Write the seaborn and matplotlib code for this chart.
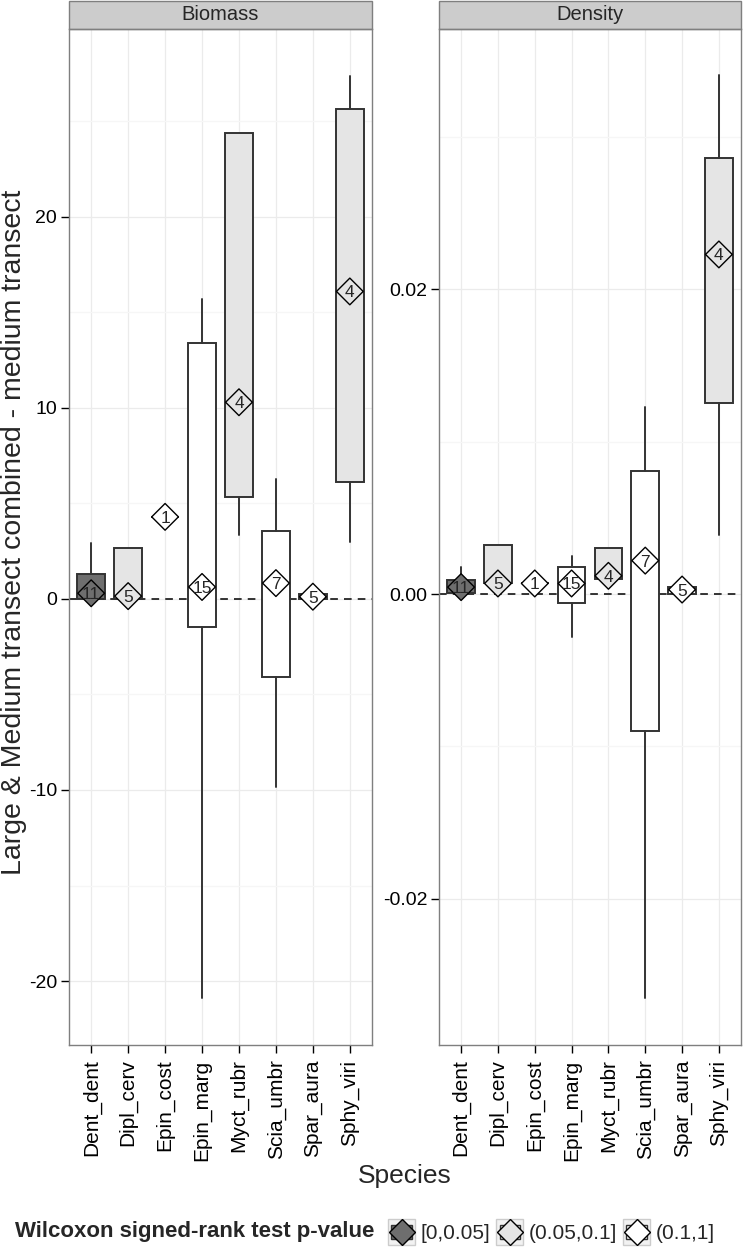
import matplotlib
matplotlib.use("Agg")
import matplotlib.pyplot as plt
import seaborn as sns
import pandas as pd
from matplotlib.patches import Rectangle, Patch
from matplotlib.lines import Line2D
from matplotlib.legend_handler import HandlerBase

# species and per-species sample sizes / Wilcoxon class
species = ['Dent_dent', 'Dipl_cerv', 'Epin_cost', 'Epin_marg',
           'Myct_rubr', 'Scia_umbr', 'Spar_aura', 'Sphy_viri']
n_obs = [11, 5, 1, 15, 4, 7, 5, 4]
p_class = ['[0,0.05]', '(0.05,0.1]', '(0.1,1]', '(0.1,1]',
           '(0.05,0.1]', '(0.1,1]', '(0.1,1]', '(0.05,0.1]']
p_levels = ['[0,0.05]', '(0.05,0.1]', '(0.1,1]']

# Biomass box stats
bio_whislo = [0.0, 0.0, 4.3, -20.9, 3.35, -9.85, 0.0, 2.98]
bio_q1 = [0.0, 0.0, 4.3, -1.47, 5.34, -4.08, 0.0, 6.1]
bio_med = [0.3, 0.15, 4.3, 0.63, 10.3, 0.83, 0.12, 16.1]
bio_q3 = [1.3, 2.67, 4.3, 13.4, 24.4, 3.56, 0.26, 25.65]
bio_whishi = [2.93, 2.67, 4.3, 15.7, 24.4, 6.3, 0.26, 27.4]

# Density box stats
den_whislo = [0.0001, 0.0007, 0.0007, -0.0028, 0.001, -0.0265, 0.0, 0.0039]
den_q1 = [0.0001, 0.0007, 0.0007, -0.0006, 0.001, -0.0090, 0.0, 0.01255]
den_med = [0.00046, 0.0007, 0.0007, 0.0007, 0.0012, 0.0022, 0.0003, 0.0223]
den_q3 = [0.00092, 0.0032, 0.0007, 0.0018, 0.003, 0.0081, 0.00046, 0.0286]
den_whishi = [0.0018, 0.0032, 0.0007, 0.0025, 0.003, 0.0123, 0.00046, 0.0341]

fill_map = {'[0,0.05]': '#6e6e6e', '(0.05,0.1]': '#e5e5e5', '(0.1,1]': 'white'}

sns.set_theme(style='white')
plt.rcParams['font.family'] = ['Liberation Sans', 'DejaVu Sans']
plt.rcParams['axes.unicode_minus'] = False

W, H = 744, 1249
fig = plt.figure(figsize=(W / 100, H / 100), dpi=100)
ax_bio = fig.add_axes([69 / W, 1 - 1045 / H, 303 / W, 1016 / H])
ax_den = fig.add_axes([439 / W, 1 - 1045 / H, 302 / W, 1016 / H])


def draw_panel(ax, title, whislo, q1, med, q3, whishi, ylim, yticks, yminor, labels):
    stats = [dict(whislo=a, q1=b, med=c, q3=d, whishi=e, fliers=[])
             for a, b, c, d, e in zip(whislo, q1, med, q3, whishi)]
    bp = ax.bxp(stats, positions=list(range(len(species))), widths=0.75,
                patch_artist=True, showcaps=False, showfliers=False,
                boxprops=dict(edgecolor='#333333', linewidth=1.4),
                whiskerprops=dict(color='#333333', linewidth=1.4),
                medianprops=dict(color='#333333', linewidth=1.4),
                zorder=3)
    for patch, cls in zip(bp['boxes'], p_class):
        patch.set_facecolor(fill_map[cls])

    df = pd.DataFrame({'pos': range(len(species)), 'med': med,
                       'pclass': p_class, 'n': n_obs})
    sns.scatterplot(data=df, x='pos', y='med', hue='pclass', palette=fill_map,
                    marker='D', s=185, edgecolor='black', linewidth=1,
                    legend=False, zorder=5, ax=ax)
    for row in df.itertuples():
        ax.text(row.pos, row.med, str(row.n), ha='center', va='center_baseline',
                fontsize=12.5, zorder=6)

    ax.axhline(0, color='black', linestyle='--', linewidth=1.1,
               dashes=(5, 4), zorder=2)

    ax.set_xlim(-0.6, len(species) - 0.4)
    ax.set_ylim(*ylim)
    ax.set_xticks(range(len(species)))
    ax.set_xticklabels(species, rotation=90, fontsize=15)
    ax.set_yticks(yticks)
    ax.set_yticklabels(labels, fontsize=14)
    ax.set_yticks(yminor, minor=True)
    ax.set_xlabel('')
    ax.set_ylabel('')
    ax.set_axisbelow(True)
    ax.grid(which='major', color='#ebebeb', linewidth=0.9)
    ax.grid(which='minor', axis='y', color='#f6f6f6', linewidth=0.9)
    ax.tick_params(which='major', direction='out', length=5.5, width=1,
                   color='black', labelcolor='black', pad=3,
                   left=True, bottom=True)
    ax.tick_params(axis='x', which='major', pad=5)
    ax.tick_params(which='minor', length=0)
    for sp in ax.spines.values():
        sp.set_color('#7f7f7f')
        sp.set_linewidth(1)

    # facet strip
    sh = 28 / 1016
    ax.add_patch(Rectangle((0, 1), 1, sh, transform=ax.transAxes, clip_on=False,
                           facecolor='#cccccc', edgecolor='#7f7f7f', linewidth=1))
    ax.text(0.5, 1 + sh / 2, title, transform=ax.transAxes, ha='center',
            va='center', fontsize=14.5)


draw_panel(ax_bio, 'Biomass', bio_whislo, bio_q1, bio_med, bio_q3, bio_whishi,
           (-23.35, 29.84), [-20, -10, 0, 10, 20], [-15, -5, 5, 15, 25],
           ['-20', '-10', '0', '10', '20'])
draw_panel(ax_den, 'Density', den_whislo, den_q1, den_med, den_q3, den_whishi,
           (-0.0296, 0.0371), [-0.02, 0.0, 0.02], [-0.01, 0.01, 0.03],
           ['-0.02', '0.00', '0.02'])

fig.text(14 / W, 1 - 532 / H, 'Large & Medium transect combined - medium transect',
         rotation=90, ha='center', va='center', fontsize=20.5)
fig.text(405 / W, 1 - 1176 / H, 'Species', ha='center', va='center', fontsize=19)


class KeyHandler(HandlerBase):
    def create_artists(self, legend, orig_handle, xdescent, ydescent,
                       width, height, fontsize, trans):
        fill = orig_handle.get_facecolor()
        x0, y0 = -xdescent, -ydescent
        bg = Rectangle((x0, y0), width, height, facecolor='#f2f2f2',
                       edgecolor='#cccccc', linewidth=1, transform=trans)
        box = Rectangle((x0 + width * 0.12, y0 + height * 0.22), width * 0.76,
                        height * 0.56, facecolor=fill, edgecolor='#333333',
                        linewidth=1, transform=trans)
        dia = Line2D([x0 + width / 2], [y0 + height / 2], marker='D',
                     markersize=13.5, markerfacecolor=fill,
                     markeredgecolor='black', markeredgewidth=1,
                     linestyle='', transform=trans)
        return [bg, box, dia]


handles = [Patch(facecolor=fill_map[c]) for c in p_levels]
fig.text(374 / W, 1 - 1232 / H, 'Wilcoxon signed-rank test p-value',
         ha='right', va='center', fontsize=16, fontweight='bold')
fig.legend(handles, p_levels, loc='center left',
           bbox_to_anchor=(388 / W, 1 - 1232 / H), ncol=3, frameon=False,
           fontsize=15, handlelength=1.3, handleheight=1.5,
           handletextpad=0.25, columnspacing=0.3, borderpad=0, borderaxespad=0,
           handler_map={Patch: KeyHandler()})

fig.savefig('out.png', dpi=100)
